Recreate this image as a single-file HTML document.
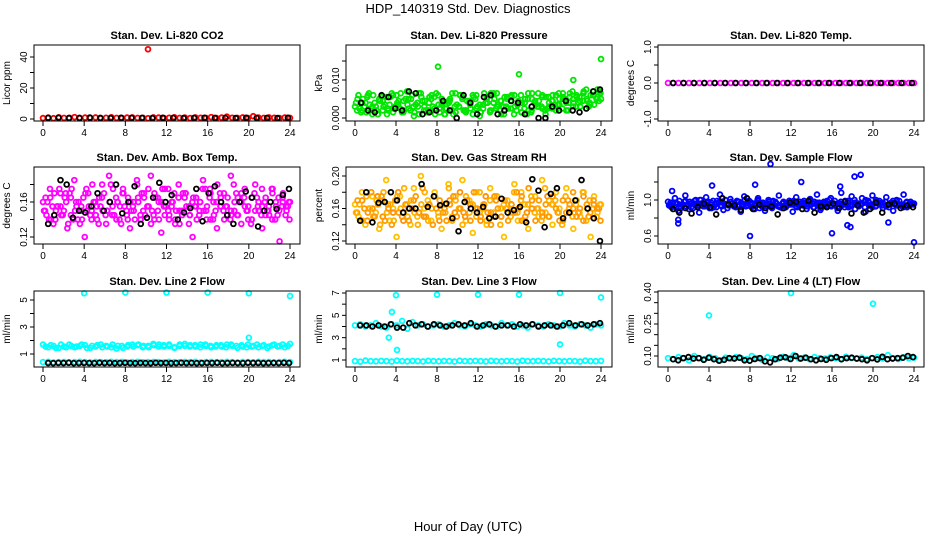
<!DOCTYPE html>
<html><head><meta charset="utf-8">
<style>
html,body{margin:0;padding:0;background:#fff;}
svg{display:block;font-family:"Liberation Sans",Arial,sans-serif;}
</style></head>
<body>
<svg id="chart" width="936" height="540" viewBox="0 0 936 540">
<text x="468" y="13" text-anchor="middle" font-size="13">HDP_140319  Std. Dev. Diagnostics</text>
<text x="468" y="531" text-anchor="middle" font-size="13">Hour of Day (UTC)</text>
</svg>
<script>
// ---------- data ----------
const xTicks = [0,4,8,12,16,20,24];
const co2Red = [0.6,0.9,0.5,1.1,0.7,0.8,1.2,0.6,0.9,0.7,1.0,0.5,0.8,1.1,0.7,0.6,0.9,1.0,0.7,0.8,0.5,1.0,0.9,0.6,0.8,1.1,0.7,0.9,0.6,1.0,0.8,0.7,1.2,0.6,0.9,1.5,0.8,0.7,1.0,0.6,1.8,0.9,0.7,1.0,0.8,0.6,0.9,0.7];
const co2Black = [0.7,0.8,0.6,0.7,0.9,0.7,0.6,0.8,0.7,0.7,0.6,0.8,0.7,0.6,0.7,0.8,0.7,0.7,0.6,0.8,0.7,0.7,0.6,0.8];
const co2OutHours = [10.2];
const co2OutVals = [45];
const presGreenA = [0.003,0.006,0.002,0.004,0.0065,0.001,0.003,0.005,0.002,0.0055,0.0035,0.0015,0.006,0.0025,0.0045,0.007,0.002,0.0005,0.004,0.0065,0.003,0.0015,0.005,0.0025,0.006,0.0035,0.001,0.0045,0.002,0.0065,0.003,0.005,0.0015,0.004,0.006,0.0025,0.0005,0.0035,0.0055,0.002,0.0065,0.003,0.0045,0.001,0.005,0.0025,0.006,0.0035,0.0015,0.004,0.0065,0.002,0.0045,0.003,0.0055,0.001,0.004,0.0025,0.006,0.0035,0.005,0.002,0.0065,0.004,0.0055,0.003,0.007,0.0045,0.006,0.0035,0.0075,0.005];
const presGreenB = [0.002,0.004,0.0055,0.003,0.001,0.0045,0.0025,0.006,0.0035,0.0015,0.005,0.003,0.0065,0.002,0.004,0.0055,0.0025,0.001,0.0045,0.003,0.006,0.002,0.0035,0.005,0.0015,0.004,0.0065,0.0025,0.0045,0.003,0.0055,0.002,0.004,0.001,0.005,0.003,0.006,0.0025,0.0045,0.0035,0.0055,0.002,0.005,0.004,0.0065,0.003,0.006,0.0045];
const presGreenC = [0.004,0.0025,0.005,0.0015,0.0035,0.006,0.002,0.0045,0.003,0.001,0.0055,0.0025,0.004,0.0065,0.002,0.0035,0.005,0.0015,0.003,0.0055,0.0045,0.002,0.006,0.001,0.0035,0.005,0.0025,0.004,0.0065,0.0015,0.003,0.0055,0.002,0.0045,0.001,0.006,0.0035,0.0025,0.005,0.0015,0.004,0.0065,0.002,0.003,0.0055,0.0045,0.001,0.0035,0.006,0.0025,0.005,0.0015,0.004,0.0065,0.003,0.002,0.0055,0.0045,0.0035,0.0065,0.0025,0.005,0.004,0.007,0.003,0.0055,0.0045,0.0075,0.004,0.006,0.005,0.007];
const presGreenD = [0.005,0.0015,0.003,0.006,0.0025,0.004,0.001,0.0055,0.0035,0.002,0.0065,0.003,0.0045,0.0015,0.005,0.0025,0.006,0.0035,0.001,0.0045,0.002,0.0055,0.003,0.0065,0.0015,0.004,0.0025,0.005,0.001,0.0035,0.006,0.002,0.0045,0.0025,0.0055,0.003,0.0015,0.0065,0.004,0.002,0.005,0.0035,0.001,0.0055,0.0025,0.006,0.003,0.0045,0.0015,0.005,0.002,0.0065,0.0035,0.0045,0.0025,0.0055,0.003,0.006,0.002,0.005,0.0065,0.004,0.0055,0.003,0.006,0.0045,0.0065,0.005,0.0035,0.007,0.0055,0.0065];
const presBlack = [0.004,0.002,0.0015,0.006,0.0055,0.0025,0.002,0.007,0.0065,0.001,0.0015,0.002,0.0045,0.002,0.0,0.006,0.004,0.001,0.0055,0.006,0.001,0.002,0.0045,0.004,0.001,0.003,0.0,0.0,0.003,0.002,0.0045,0.002,0.0015,0.0025,0.007,0.0075];
const presOutHours = [8.1,16,21.3,24];
const presOutVals = [0.0135,0.0115,0.01,0.0155];
const tempMag = [0,0,0,0,0,0,0,0,0,0,0,0,0,0,0,0,0,0,0,0,0,0,0,0,0,0,0,0,0,0,0,0,0,0,0,0,0,0,0,0,0,0,0,0,0,0,0,0];
const tempBlack = [0,0,0,0,0,0,0,0,0,0,0,0,0,0,0,0,0,0,0,0,0,0,0,0];
const ambMagA = [0.16,0.145,0.175,0.135,0.155,0.17,0.15,0.13,0.165,0.185,0.14,0.155,0.12,0.17,0.15,0.16,0.135,0.18,0.145,0.19,0.155,0.165,0.14,0.175,0.15,0.13,0.16,0.185,0.145,0.17,0.155,0.19,0.14,0.165,0.125,0.175,0.15,0.16,0.135,0.18,0.145,0.17,0.155,0.12,0.165,0.15,0.185,0.14,0.175,0.16,0.13,0.155,0.17,0.145,0.19,0.15,0.165,0.135,0.175,0.155,0.14,0.18,0.15,0.13,0.165,0.145,0.175,0.155,0.115,0.17,0.15,0.16];
const ambMagB = [0.15,0.165,0.14,0.155,0.17,0.145,0.16,0.15,0.175,0.14,0.155,0.165,0.15,0.145,0.16,0.17,0.14,0.155,0.165,0.15,0.175,0.145,0.16,0.155,0.14,0.17,0.15,0.165,0.145,0.155,0.16,0.175,0.14,0.15,0.165,0.155,0.145,0.17,0.16,0.15,0.14,0.165,0.155,0.15,0.17,0.145,0.16,0.155];
const ambMagC = [0.15,0.16,0.14,0.17,0.155,0.145,0.165,0.135,0.175,0.15,0.16,0.14,0.17,0.155,0.18,0.145,0.165,0.15,0.135,0.16,0.175,0.14,0.155,0.17,0.145,0.16,0.15,0.18,0.14,0.165,0.155,0.135,0.17,0.15,0.16,0.145,0.175,0.155,0.14,0.165,0.15,0.17,0.135,0.16,0.155,0.145,0.175,0.15,0.165,0.14,0.16,0.17,0.15,0.155,0.14,0.18,0.145,0.16,0.165,0.15,0.135,0.17,0.155,0.145,0.16,0.15,0.175,0.14,0.165,0.155,0.145,0.16];
const ambMagD = [0.165,0.14,0.155,0.15,0.175,0.145,0.16,0.17,0.14,0.155,0.135,0.165,0.15,0.145,0.16,0.14,0.155,0.17,0.15,0.18,0.145,0.16,0.135,0.155,0.165,0.15,0.14,0.16,0.17,0.145,0.155,0.15,0.165,0.14,0.175,0.155,0.145,0.16,0.15,0.135,0.17,0.155,0.145,0.165,0.14,0.16,0.15,0.155,0.17,0.145,0.18,0.155,0.14,0.165,0.15,0.16,0.145,0.17,0.155,0.14,0.165,0.15,0.16,0.175,0.145,0.155,0.14,0.16,0.15,0.165,0.155,0.14];
const ambBlack = [0.135,0.145,0.185,0.18,0.142,0.15,0.148,0.155,0.17,0.15,0.16,0.18,0.147,0.16,0.178,0.135,0.142,0.165,0.182,0.16,0.168,0.14,0.148,0.153,0.175,0.138,0.17,0.178,0.16,0.145,0.135,0.16,0.172,0.165,0.132,0.15,0.16,0.152,0.168,0.175];
const rhOrangeA = [0.165,0.15,0.18,0.14,0.16,0.175,0.155,0.135,0.17,0.195,0.145,0.16,0.125,0.175,0.155,0.165,0.14,0.185,0.15,0.2,0.16,0.17,0.145,0.18,0.155,0.135,0.165,0.19,0.15,0.175,0.16,0.195,0.145,0.17,0.13,0.18,0.155,0.165,0.14,0.185,0.15,0.175,0.16,0.125,0.17,0.155,0.19,0.145,0.18,0.165,0.135,0.16,0.175,0.15,0.195,0.155,0.17,0.14,0.18,0.16,0.145,0.185,0.155,0.135,0.17,0.15,0.18,0.16,0.125,0.175,0.155,0.165];
const rhOrangeB = [0.155,0.17,0.145,0.16,0.175,0.15,0.165,0.155,0.18,0.145,0.16,0.17,0.155,0.15,0.165,0.175,0.145,0.16,0.17,0.155,0.18,0.15,0.165,0.16,0.145,0.175,0.155,0.17,0.15,0.16,0.165,0.18,0.145,0.155,0.17,0.16,0.15,0.175,0.165,0.155,0.145,0.17,0.16,0.155,0.175,0.15,0.165,0.16];
const rhOrangeC = [0.155,0.165,0.145,0.175,0.16,0.15,0.17,0.14,0.18,0.155,0.165,0.145,0.175,0.16,0.185,0.15,0.17,0.155,0.14,0.165,0.18,0.145,0.16,0.175,0.15,0.165,0.155,0.185,0.145,0.17,0.16,0.14,0.175,0.155,0.165,0.15,0.18,0.16,0.145,0.17,0.155,0.175,0.14,0.165,0.16,0.15,0.18,0.155,0.17,0.145,0.165,0.175,0.155,0.16,0.145,0.185,0.15,0.165,0.17,0.155,0.14,0.175,0.16,0.15,0.165,0.155,0.18,0.145,0.17,0.16,0.15,0.165];
const rhOrangeD = [0.17,0.145,0.16,0.155,0.18,0.15,0.165,0.175,0.145,0.16,0.14,0.17,0.155,0.15,0.165,0.145,0.16,0.175,0.155,0.185,0.15,0.165,0.14,0.16,0.17,0.155,0.145,0.165,0.175,0.15,0.16,0.155,0.17,0.145,0.18,0.16,0.15,0.165,0.155,0.14,0.175,0.16,0.15,0.17,0.145,0.165,0.155,0.16,0.175,0.15,0.185,0.16,0.145,0.17,0.155,0.165,0.15,0.175,0.16,0.145,0.17,0.155,0.165,0.18,0.15,0.16,0.145,0.165,0.155,0.17,0.16,0.145];
const rhBlack = [0.145,0.18,0.143,0.167,0.168,0.18,0.17,0.155,0.16,0.16,0.19,0.162,0.175,0.164,0.166,0.148,0.132,0.168,0.16,0.155,0.162,0.148,0.15,0.172,0.155,0.158,0.162,0.143,0.196,0.182,0.137,0.178,0.185,0.148,0.155,0.17,0.195,0.16,0.148,0.12];
const flowBlueA = [0.98,0.92,1.02,0.88,0.95,1.05,0.9,0.97,1.0,0.86,0.94,1.03,0.91,0.99,0.96,1.06,0.89,0.95,1.01,0.93,0.98,0.87,1.04,0.94,0.97,0.9,1.02,0.96,0.88,1.0,0.93,0.98,1.05,0.91,0.95,0.99,0.87,1.03,0.94,0.97,0.9,1.01,0.96,1.06,0.89,0.98,0.93,1.02,0.95,0.88,1.08,0.92,0.99,1.04,0.9,0.96,1.02,0.87,0.97,1.05,0.93,0.99,0.91,1.03,0.95,0.88,1.0,0.94,1.06,0.92,0.98,0.96];
const flowBlueB = [0.95,0.97,0.93,0.99,0.96,0.94,1.0,0.95,0.97,0.92,0.98,0.95,0.96,0.99,0.93,0.97,0.95,1.0,0.94,0.96,0.98,0.93,0.97,0.95,0.99,0.94,0.96,0.98,0.92,0.97,0.95,1.0,0.94,0.96,0.99,0.93,0.97,0.95,0.98,0.94,1.0,0.96,0.93,0.97,0.99,0.95,0.98,0.96];
const flowBlueC = [0.94,0.97,0.92,0.99,0.95,0.93,0.98,0.91,0.96,1.0,0.93,0.97,0.95,0.92,0.99,0.94,0.96,0.91,0.98,0.95,0.93,0.97,1.0,0.94,0.92,0.96,0.99,0.93,0.95,0.98,0.91,0.97,0.94,0.96,0.92,0.99,0.95,0.93,0.98,0.94,0.96,1.0,0.92,0.97,0.95,0.93,0.99,0.94,0.96,0.91,0.98,0.95,0.97,0.93,1.0,0.94,0.96,0.92,0.99,0.95,0.93,0.97,0.94,0.98,0.92,0.96,0.95,0.99,0.93,0.97,0.94,0.96];
const flowBlueD = [0.97,0.93,0.96,0.91,0.98,0.95,0.92,0.99,0.94,0.96,0.93,0.98,0.91,0.95,0.97,0.93,1.0,0.94,0.96,0.92,0.98,0.95,0.93,0.99,0.96,0.94,0.91,0.97,0.95,0.93,0.99,0.96,0.92,0.98,0.94,0.95,0.97,0.92,0.96,0.99,0.93,0.95,0.98,0.94,0.91,0.97,0.95,0.93,0.99,0.96,0.94,0.98,0.92,0.95,0.97,0.93,0.96,1.0,0.94,0.92,0.98,0.95,0.97,0.93,0.96,0.99,0.94,0.95,0.92,0.97,0.96,0.95];
const flowBlack = [0.9,0.86,0.91,0.85,0.92,0.96,0.92,0.84,1.02,0.95,0.94,0.89,1.02,0.9,0.95,0.91,0.93,0.84,0.91,0.97,0.98,0.9,0.99,0.86,0.93,0.92,0.96,0.91,0.98,0.85,0.94,0.86,0.9,0.97,0.86,0.95,0.96,0.91,0.94,0.92];
const flowOutHours = [0.4,1,1,4.3,8,8.5,10,13,16,16.8,17.5,17.8,18.2,18.8,21.5,24];
const flowOutVals = [1.1,0.74,0.78,1.16,0.6,1.17,1.4,1.2,0.63,1.15,0.72,0.7,1.26,1.28,0.75,0.53];
const l2CyanA = [1.7,1.5,1.6,1.45,1.55,1.7,1.5,1.6,1.65,1.45,1.55,1.7,1.6,1.5,1.4,1.6,1.55,1.7,1.65,1.5,1.6,1.75,1.55,1.65,1.7,1.5,1.6,1.75,1.65,1.55,1.7,1.6,1.5,1.65,1.55,1.7,1.6,1.45,1.55,1.7,1.6,1.5,1.65,1.55,1.7,1.6,1.5,1.75];
const l2CyanC = [1.55,1.65,1.45,1.7,1.5,1.6,1.55,1.7,1.45,1.6,1.65,1.5,1.55,1.7,1.6,1.45,1.65,1.55,1.7,1.6,1.5,1.65,1.7,1.55,1.6,1.45,1.7,1.6,1.55,1.65,1.5,1.7,1.6,1.55,1.65,1.5,1.7,1.6,1.65,1.5,1.55,1.7,1.6,1.45,1.65,1.55,1.7,1.6];
const l2CyanB = [0.4,0.42,0.38,0.4,0.41,0.39,0.4,0.42,0.4,0.38,0.41,0.4,0.39,0.42,0.4,0.41,0.38,0.4,0.42,0.39,0.4,0.41,0.4,0.38,0.42,0.4,0.39,0.41,0.4,0.42,0.38,0.4,0.41,0.39,0.4,0.42,0.4,0.38,0.41,0.4,0.39,0.42,0.4,0.41,0.38,0.4,0.42,0.4];
const l2Black = [0.33,0.32,0.34,0.33,0.35,0.32,0.33,0.34,0.33,0.32,0.35,0.33,0.34,0.32,0.33,0.35,0.33,0.32,0.34,0.33,0.32,0.35,0.33,0.34,0.32,0.33,0.35,0.33,0.34,0.32,0.33,0.34,0.33,0.35,0.32,0.33,0.34,0.33,0.32,0.35,0.33,0.34,0.32,0.33,0.34,0.33,0.35,0.33];
const l2OutHours = [4,8,12,16,20,24,20];
const l2OutVals = [5.5,5.55,5.55,5.55,5.5,5.3,2.2];
const l3CyanA = [4.1,4.2,4.0,4.1,4.3,4.0,3.9,4.2,4.1,4.5,3.8,4.4,4.1,4.2,4.0,4.1,4.2,4.0,4.1,4.3,4.1,4.0,4.2,4.1,4.0,4.2,4.1,4.0,4.3,4.1,4.2,4.0,4.1,3.9,4.2,4.1,4.0,4.2,4.1,4.0,4.3,4.1,4.0,4.2,4.1,3.9,4.2,4.1];
const l3CyanB = [0.9,0.85,0.95,0.9,0.88,0.92,0.9,0.86,0.94,0.9,0.88,0.92,0.9,0.87,0.93,0.9,0.88,0.91,0.9,0.86,0.94,0.9,0.89,0.92,0.9,0.87,0.93,0.9,0.88,0.91,0.9,0.86,0.94,0.9,0.89,0.92,0.9,0.87,0.93,0.9,0.88,0.91,0.9,0.86,0.94,0.9,0.89,0.92];
const l3Black = [4.1,4.1,4.0,4.1,4.0,4.2,3.9,3.9,4.3,4.1,4.2,4.0,4.2,4.1,4.0,4.1,4.2,4.1,4.3,4.0,4.1,4.2,4.0,4.1,4.1,4.0,4.2,4.1,4.2,4.0,4.1,4.1,4.0,4.1,4.3,4.1,4.2,4.1,4.2,4.3];
const l3OutHours = [4,8,12,16,20,24,3.6,3.3,4.1,20];
const l3OutVals = [6.8,6.85,6.85,6.85,7.0,6.6,5.3,3.0,1.9,2.4];
const l4Cyan = [0.09,0.085,0.095,0.09,0.08,0.1,0.09,0.085,0.095,0.09,0.08,0.092,0.088,0.095,0.09,0.085,0.1,0.09,0.082,0.094,0.09,0.086,0.096,0.09,0.104,0.088,0.092,0.085,0.095,0.09,0.088,0.094,0.09,0.085,0.096,0.09,0.088,0.092,0.085,0.09,0.095,0.088,0.104,0.09,0.086,0.094,0.09,0.092];
const l4Black = [0.085,0.08,0.09,0.095,0.088,0.09,0.082,0.092,0.085,0.078,0.082,0.09,0.088,0.092,0.08,0.078,0.086,0.09,0.075,0.07,0.085,0.092,0.094,0.086,0.1,0.088,0.092,0.085,0.08,0.086,0.082,0.09,0.095,0.085,0.09,0.092,0.088,0.085,0.08,0.09,0.084,0.096,0.085,0.088,0.09,0.092,0.1,0.095];
const l4OutHours = [4,12,20];
const l4OutVals = [0.29,0.395,0.345];

// ---------- layout ----------
const NS = "http://www.w3.org/2000/svg";
const svg = document.getElementById("chart");
const COLS = [{bl:34,br:300,x0:43,x24:290},{bl:346,br:612,x0:355,x24:601},{bl:658,br:924,x0:668,x24:914}];
const ROWS = [{bt:45,bb:121},{bt:167,bb:244},{bt:291,bb:367}];

function mk(tag, attrs, parent){
  const e = document.createElementNS(NS, tag);
  for (const k in attrs) e.setAttribute(k, attrs[k]);
  (parent||svg).appendChild(e);
  return e;
}

function panel(name, title, ylab, c, r, yA, yB, pA, pB, ticks, labels, series){
  const col = COLS[c], row = ROWS[r];
  const g = mk("g", {});
  
  
  const xs = h => col.x0 + (col.x24 - col.x0) * h / 24;
  const ys = v => pA + (pB - pA) * (v - yA) / (yB - yA);
  const t = mk("text", {x:(col.bl+col.br)/2, y:row.bt-6, "text-anchor":"middle", "font-size":"11", "font-weight":"bold"}, g);
  t.textContent = title;
  
  
  const yl = mk("text", {transform:`translate(${col.bl-24},${(row.bt+row.bb)/2}) rotate(-90)`, "text-anchor":"middle", "font-size":"10"}, g);
  yl.textContent = ylab;
  
  
  xTicks.forEach(h => {
    mk("line", {x1:xs(h), x2:xs(h), y1:row.bb, y2:row.bb+5, stroke:"#000"}, g);
    const tl = mk("text", {x:xs(h), y:row.bb+15, "text-anchor":"middle", "font-size":"10"}, g);
    tl.textContent = h;
    
    
  });
  ticks.forEach(v => {
    mk("line", {x1:col.bl-4, x2:col.bl, y1:ys(v), y2:ys(v), stroke:"#000"}, g);
  });
  labels.forEach(v => {
    const tl = mk("text", {transform:`translate(${col.bl-7},${ys(v)}) rotate(-90)`, "text-anchor":"middle", "font-size":"10"}, g);
    tl.textContent = v;
    
    
  });
  series.forEach(s => {
    const n = s.vals.length;
    s.vals.forEach((v, i) => {
      const h = s.hours ? s.hours[i] : s.t0 + (s.t1 - s.t0) * (n > 1 ? i/(n-1) : 0);
      const p = mk("circle", {cx:xs(h), cy:ys(v), r:2.4, fill:"none", stroke:s.color, "stroke-width":1.8}, g);
      
      
    });
  });
  const box = mk("rect", {x:col.bl, y:row.bt, width:col.br-col.bl, height:row.bb-row.bt, fill:"none", stroke:"#000", "stroke-width":1}, g);
  
  
}

panel("co2","Stan. Dev. Li-820 CO2","Licor ppm",0,0, 0,40,119,57, [0,10,20,30,40],[0,20,40],[
  {vals:co2Red,t0:0,t1:24,color:"#ff0000"},{vals:co2OutVals,hours:co2OutHours,color:"#ff0000"},
  {vals:co2Black,t0:0.5,t1:23.8,color:"#000"}]);
panel("pressure","Stan. Dev. Li-820 Pressure","kPa",1,0, 0,0.01,118,80, [0,0.005,0.01,0.015],["0.000","0.010"],[
  {vals:presGreenA,t0:0,t1:24,color:"#00e600"},{vals:presGreenB,t0:0.2,t1:23.8,color:"#00e600"},
  {vals:presGreenC,t0:0.1,t1:23.9,color:"#00e600"},{vals:presGreenD,t0:0.25,t1:23.95,color:"#00e600"},
  {vals:presOutVals,hours:presOutHours,color:"#00e600"},{vals:presBlack,t0:0.6,t1:23.9,color:"#000"}]);
panel("temp","Stan. Dev. Li-820 Temp.","degrees C",2,0, -1,1,119,47, [-1,-0.5,0,0.5,1],["-1.0","0.0","1.0"],[
  {vals:tempMag,t0:0,t1:24,color:"#ff00ff"},{vals:tempBlack,t0:0.5,t1:23.8,color:"#000"}]);
panel("ambbox","Stan. Dev. Amb. Box Temp.","degrees C",0,1, 0.12,0.16,237,202, [0.12,0.14,0.16,0.18],["0.12","0.16"],[
  {vals:ambMagA,t0:0,t1:24,color:"#ff00ff"},{vals:ambMagB,t0:0.2,t1:23.8,color:"#ff00ff"},
  {vals:ambMagC,t0:0.1,t1:23.9,color:"#ff00ff"},{vals:ambMagD,t0:0.25,t1:23.95,color:"#ff00ff"},
  {vals:ambBlack,t0:0.5,t1:23.9,color:"#000"}]);
panel("rh","Stan. Dev. Gas Stream RH","percent",1,1, 0.12,0.20,241,176, [0.12,0.14,0.16,0.18,0.2],["0.12","0.16","0.20"],[
  {vals:rhOrangeA,t0:0,t1:24,color:"#ffc000"},{vals:rhOrangeB,t0:0.2,t1:23.8,color:"#ff9000"},
  {vals:rhOrangeC,t0:0.1,t1:23.9,color:"#ffb000"},{vals:rhOrangeD,t0:0.25,t1:23.95,color:"#ff9a00"},
  {vals:rhBlack,t0:0.5,t1:23.9,color:"#000"}]);
panel("sampleflow","Stan. Dev. Sample Flow","ml/min",2,1, 0.6,1.0,236,200, [0.6,0.8,1.0,1.2],["0.6","1.0"],[
  {vals:flowBlueA,t0:0,t1:24,color:"#0000ff"},{vals:flowBlueB,t0:0.2,t1:23.8,color:"#0000ff"},
  {vals:flowBlueC,t0:0.1,t1:23.9,color:"#0000ff"},{vals:flowBlueD,t0:0.25,t1:23.95,color:"#0000ff"},
  {vals:flowOutVals,hours:flowOutHours,color:"#0000ff"},{vals:flowBlack,t0:0.5,t1:23.9,color:"#000"}]);
panel("line2","Stan. Dev. Line 2 Flow","ml/min",0,2, 1,5,354,300, [1,2,3,4,5],[1,3,5],[
  {vals:l2CyanA,t0:0,t1:24,color:"#00ffff"},{vals:l2CyanC,t0:0.25,t1:23.8,color:"#00ffff"},
  {vals:l2CyanB,t0:0,t1:24,color:"#00ffff"},
  {vals:l2OutVals,hours:l2OutHours,color:"#00ffff"},{vals:l2Black,t0:0.5,t1:23.9,color:"#000"}]);
panel("line3","Stan. Dev. Line 3 Flow","ml/min",1,2, 1,7,360,293, [1,2,3,4,5,6,7],[1,3,5,7],[
  {vals:l3CyanA,t0:0,t1:24,color:"#00ffff"},{vals:l3CyanB,t0:0,t1:24,color:"#00ffff"},
  {vals:l3OutVals,hours:l3OutHours,color:"#00ffff"},{vals:l3Black,t0:0.5,t1:23.9,color:"#000"}]);
panel("line4","Stan. Dev. Line 4 (LT) Flow","ml/min",2,2, 0.10,0.40,356,292, [0.1,0.15,0.2,0.25,0.3,0.35,0.4],["0.10","0.25","0.40"],[
  {vals:l4Cyan,t0:0,t1:24,color:"#00ffff"},{vals:l4OutVals,hours:l4OutHours,color:"#00ffff"},
  {vals:l4Black,t0:0.5,t1:23.9,color:"#000"}]);
</script>
</body></html>
